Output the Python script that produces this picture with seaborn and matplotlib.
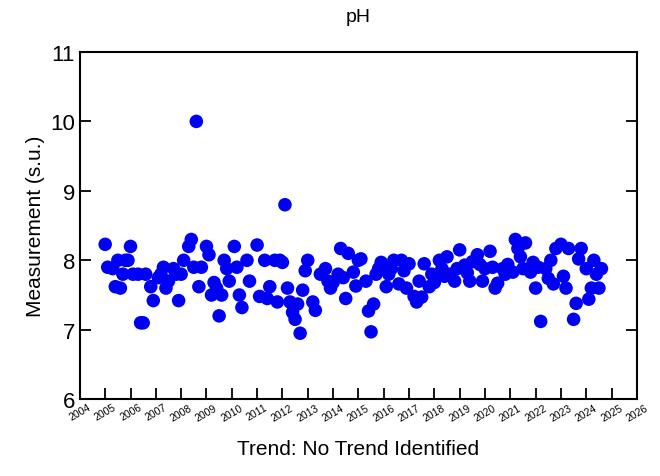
import matplotlib
matplotlib.use('Agg')
import matplotlib.pyplot as plt
import pandas as pd
import seaborn as sns

# sample dates (decimal years) and pH values
years = [
    2005.0, 2005.1, 2005.3, 2005.4, 2005.5, 2005.6, 2005.7, 2005.8, 2005.9, 2006.0,
    2006.1, 2006.3, 2006.4, 2006.5, 2006.6, 2006.8, 2006.9, 2007.1, 2007.2, 2007.3,
    2007.4, 2007.5, 2007.7, 2007.8, 2007.9, 2008.0, 2008.1, 2008.3, 2008.4, 2008.5,
    2008.6, 2008.7, 2008.8, 2009.0, 2009.1, 2009.2, 2009.3, 2009.4, 2009.5, 2009.6,
    2009.7, 2009.8, 2009.9, 2010.1, 2010.2, 2010.3, 2010.4, 2010.6, 2010.7, 2011.0,
    2011.1, 2011.3, 2011.4, 2011.5, 2011.7, 2011.8, 2011.9, 2012.0, 2012.1, 2012.2,
    2012.3, 2012.4, 2012.5, 2012.6, 2012.7, 2012.8, 2012.9, 2013.0, 2013.2, 2013.3,
    2013.5, 2013.7, 2013.8, 2013.9, 2014.0, 2014.2, 2014.3, 2014.4, 2014.5, 2014.6,
    2014.8, 2014.9, 2015.0, 2015.1, 2015.3, 2015.4, 2015.5, 2015.6, 2015.7, 2015.8,
    2015.9, 2016.1, 2016.2, 2016.3, 2016.4, 2016.6, 2016.7, 2016.8, 2016.9, 2017.0,
    2017.2, 2017.3, 2017.4, 2017.5, 2017.6, 2017.8, 2017.9, 2018.0, 2018.2, 2018.3,
    2018.4, 2018.5, 2018.6, 2018.8, 2018.9, 2019.0, 2019.2, 2019.3, 2019.4, 2019.5,
    2019.7, 2019.8, 2019.9, 2020.0, 2020.2, 2020.3, 2020.4, 2020.5, 2020.7, 2020.8,
    2020.9, 2021.1, 2021.2, 2021.3, 2021.4, 2021.5, 2021.6, 2021.8, 2021.9, 2022.0,
    2022.1, 2022.2, 2022.4, 2022.5, 2022.6, 2022.7, 2022.8, 2023.0, 2023.1, 2023.2,
    2023.3, 2023.5, 2023.6, 2023.7, 2023.8, 2024.0, 2024.1, 2024.2, 2024.3, 2024.4,
    2024.5, 2024.6,
]
ph = [
    8.23, 7.90, 7.88, 7.62, 8.00, 7.60, 7.80, 8.00, 8.00, 8.20,
    7.80, 7.80, 7.10, 7.10, 7.80, 7.62, 7.42, 7.75, 7.80, 7.90,
    7.60, 7.70, 7.88, 7.80, 7.42, 7.80, 8.00, 8.20, 8.30, 7.90,
    10.0, 7.62, 7.90, 8.20, 8.08, 7.50, 7.68, 7.60, 7.20, 7.50,
    8.00, 7.88, 7.70, 8.20, 7.90, 7.50, 7.32, 8.00, 7.70, 8.22,
    7.48, 8.00, 7.45, 7.62, 8.00, 7.40, 8.00, 7.97, 8.80, 7.60,
    7.40, 7.25, 7.15, 7.37, 6.95, 7.57, 7.85, 8.00, 7.40, 7.28,
    7.80, 7.88, 7.70, 7.60, 7.68, 7.80, 8.17, 7.75, 7.45, 8.10,
    7.83, 7.63, 8.00, 8.02, 7.70, 7.27, 6.97, 7.37, 7.80, 7.88,
    7.97, 7.62, 7.80, 7.88, 8.00, 7.66, 8.00, 7.85, 7.60, 7.95,
    7.48, 7.40, 7.70, 7.47, 7.95, 7.62, 7.80, 7.68, 8.00, 7.88,
    7.77, 8.05, 7.80, 7.70, 7.88, 8.15, 7.93, 7.82, 7.70, 7.98,
    8.08, 7.94, 7.70, 7.88, 8.13, 7.90, 7.60, 7.67, 7.88, 7.80,
    7.94, 7.83, 8.30, 8.17, 8.05, 7.88, 8.25, 7.83, 7.97, 7.60,
    7.90, 7.12, 7.88, 7.74, 8.00, 7.66, 8.17, 8.23, 7.77, 7.60,
    8.17, 7.15, 7.38, 8.02, 8.17, 7.88, 7.44, 7.60, 8.00, 7.80,
    7.60, 7.88,
]
tick_years = list(range(2004, 2027))

df = pd.DataFrame({'year': years, 'ph': ph})

sns.set_style('white')
plt.rcParams['font.family'] = ['Liberation Sans', 'DejaVu Sans']
plt.rcParams['text.color'] = 'black'
plt.rcParams['axes.labelcolor'] = 'black'
plt.rcParams['xtick.color'] = 'black'
plt.rcParams['ytick.color'] = 'black'

fig = plt.figure(figsize=(6.6, 4.77), dpi=100)
ax = fig.add_axes([0.121, 0.161, 0.844, 0.728])
sns.scatterplot(data=df, x='year', y='ph', ax=ax, color='#0000f5', s=95,
                edgecolor='none', legend=False)

ax.set_xlim(2004, 2026)
ax.set_ylim(6, 11)
ax.set_xticks(tick_years)
ax.set_xticklabels([str(y) for y in tick_years], rotation=30, fontsize=7.5,
                   ha='center')
ax.set_yticks(range(6, 12))
ax.tick_params(axis='y', labelsize=16, direction='in', length=8, width=1.3,
               right=True, left=True)
ax.tick_params(axis='x', direction='in', length=8, width=1.3, bottom=True,
               pad=2)
for sp in ax.spines.values():
    sp.set_color('black')
    sp.set_linewidth(1.5)

ax.set_title('pH', fontsize=14, pad=22)
ax.set_ylabel('Measurement (s.u.)', fontsize=15)
ax.set_xlabel('Trend: No Trend Identified', fontsize=15, labelpad=12)

fig.savefig('out.png', dpi=100)
